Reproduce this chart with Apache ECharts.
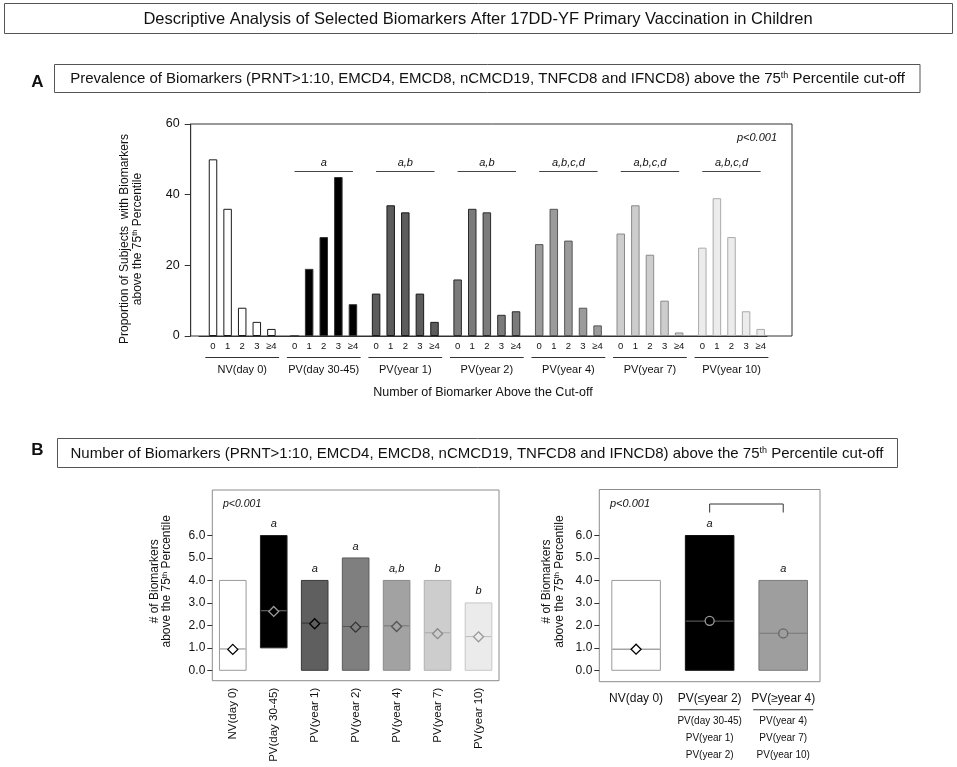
<!DOCTYPE html>
<html><head><meta charset="utf-8">
<script src="https://cdn.jsdelivr.net/npm/echarts@6/dist/echarts.min.js"></script>
<style>html,body{margin:0;padding:0;background:#fff}#c{width:957px;height:767px}</style>
</head><body><div id="c"></div>
<script>
const FONT = '"Liberation Sans", Arial, Helvetica, sans-serif';

// ---------- Panel A data ----------
const groupNamesA = ['NV(day 0)', 'PV(day 30-45)', 'PV(year 1)', 'PV(year 2)', 'PV(year 4)', 'PV(year 7)', 'PV(year 10)'];
const countLabels = ['0', '1', '2', '3', '≥4'];
const nvDay0 = [50, 36, 8, 4, 2];
const pvDay30to45 = [0, 19, 28, 45, 9];
const pvYear1 = [12, 37, 35, 12, 4];
const pvYear2 = [16, 36, 35, 6, 7];
const pvYear4 = [26, 36, 27, 8, 3];
const pvYear7 = [29, 37, 23, 10, 1];
const pvYear10 = [25, 39, 28, 7, 2];
const lettersA = ['', 'a', 'a,b', 'a,b', 'a,b,c,d', 'a,b,c,d', 'a,b,c,d'];
const letterLineLevelA = 46.5;
const yTicksA = [0, 20, 40, 60];

// ---------- Panel B (left) data ----------
const namesB = ['NV(day 0)', 'PV(day 30-45)', 'PV(year 1)', 'PV(year 2)', 'PV(year 4)', 'PV(year 7)', 'PV(year 10)'];
const minB = [0, 1, 0, 0, 0, 0, 0];
const maxB = [4, 6, 4, 5, 4, 4, 3];
const lineB = [0.95, 2.65, 2.1, 1.95, 1.98, 1.67, 1.5];
const meanB = [0.93, 2.62, 2.07, 1.92, 1.95, 1.63, 1.49];
const lettersB = ['', 'a', 'a', 'a', 'a,b', 'b', 'b'];

// ---------- Panel B (right) data ----------
const namesP = ['NV(day 0)', 'PV(≤year 2)', 'PV(≥year 4)'];
const membersP = [[], ['PV(day 30-45)', 'PV(year 1)', 'PV(year 2)'], ['PV(year 4)', 'PV(year 7)', 'PV(year 10)']];
const minP = [0, 0, 0];
const maxP = [4, 6, 4];
const lineP = [0.94, 2.19, 1.65];
const meanP = [0.94, 2.2, 1.64];
const lettersP = ['', 'a', 'a'];
const bracketP = [1, 2];
const yTicksB = [0, 1, 2, 3, 4, 5, 6];

// ---------- styles ----------
const seriesA = [nvDay0, pvDay30to45, pvYear1, pvYear2, pvYear4, pvYear7, pvYear10];
const fillA = ['#ffffff', '#000000', '#5c5c5c', '#7b7b7b', '#9b9b9b', '#cdcdcd', '#ececec'];
const strokeA = ['#1a1a1a', '#333333', '#1a1a1a', '#2a2a2a', '#555555', '#8a8a8a', '#aaaaaa'];
const fillB = ['#ffffff', '#000000', '#5f5f5f', '#7f7f7f', '#a2a2a2', '#cdcdcd', '#ebebeb'];
const strokeB = ['#9a9a9a', '#222222', '#3a3a3a', '#5a5a5a', '#8a8a8a', '#b0b0b0', '#c6c6c6'];
const midLineB = ['#8a8a8a', '#777777', '#333333', '#555555', '#777777', '#a8a8a8', '#bdbdbd'];
const markerBorderB = ['#000000', '#9a9a9a', '#000000', '#333333', '#555555', '#8a8a8a', '#9a9a9a'];
const fillP = ['#ffffff', '#000000', '#9e9e9e'];
const strokeP = ['#9a9a9a', '#111111', '#7a7a7a'];
const midLineP = ['#777777', '#666666', '#777777'];
const markerBorderP = ['#000000', '#9a9a9a', '#666666'];
const markerSymbolP = ['diamond', 'circle', 'circle'];

const chart = echarts.init(document.getElementById('c'), null, { renderer: 'canvas' });

const grids = [], xAxes = [], yAxes = [], series = [];
function G(o) { return Object.assign({ containLabel: false, outerBoundsMode: 'none' }, o); }
const supRichAxis = { sup: { fontSize: 7.5, fontFamily: FONT, color: '#111', verticalAlign: 'top', lineHeight: 8 } };

// Panel A frame grid
grids.push(G({ left: 190.7, top: 124, width: 601.3, height: 212, show: true, borderColor: '#333', borderWidth: 1 }));
xAxes.push({ gridIndex: 0, type: 'value', min: 0, max: 1, show: false });
yAxes.push({
  gridIndex: 0, type: 'value', min: yTicksA[0], max: yTicksA[yTicksA.length - 1], interval: 20,
  axisLine: { show: true, lineStyle: { color: '#333' } },
  axisTick: { show: true, length: 6, lineStyle: { color: '#333' } },
  axisLabel: { fontSize: 12.5, fontFamily: FONT, color: '#111', margin: 11 },
  splitLine: { show: false },
  name: 'Proportion of Subjects  with Biomarkers\nabove the 75{sup|th} Percentile',
  nameLocation: 'middle', nameGap: 46,
  nameTextStyle: { fontSize: 12, fontFamily: FONT, color: '#111', lineHeight: 13.3, padding: [0, 18, 0, 0], rich: supRichAxis }
});

// Panel A group grids
for (let i = 0; i < 7; i++) {
  const gi = grids.length;
  grids.push(G({ left: 205.7 + 81.55 * i, top: 124, width: 73, height: 212 }));
  xAxes.push({
    gridIndex: gi, type: 'category', data: countLabels,
    axisLine: { show: false }, axisTick: { show: false },
    axisLabel: { fontSize: 9.5, fontFamily: FONT, color: '#111', margin: 5, interval: 0 }
  });
  xAxes.push({
    gridIndex: gi, type: 'category', data: [groupNamesA[i]], position: 'bottom', offset: 21.3,
    axisLine: { show: true, lineStyle: { color: '#333', width: 1 } }, axisTick: { show: false },
    axisLabel: { fontSize: 11, fontFamily: FONT, color: '#111', margin: 7 }
  });
  yAxes.push({ gridIndex: gi, type: 'value', min: 0, max: 60, show: false });
  const s = {
    type: 'bar', xAxisIndex: xAxes.length - 2, yAxisIndex: yAxes.length - 1,
    data: seriesA[i], barWidth: 8.5,
    itemStyle: { color: fillA[i], borderColor: strokeA[i], borderWidth: 1 },
    silent: true
  };
  if (lettersA[i]) {
    s.markLine = {
      silent: true, symbol: ['none', 'none'], animation: false,
      lineStyle: { color: '#444', width: 1, type: 'solid' },
      label: { show: true, position: 'middle', formatter: lettersA[i], fontStyle: 'italic', fontSize: 11, fontFamily: FONT, color: '#111', distance: 3 },
      data: [[{ coord: [0, letterLineLevelA] }, { coord: [4, letterLineLevelA] }]]
    };
  }
  series.push(s);
}

// Panel A long underline with axis title
{
  const gi = grids.length;
  grids.push(G({ left: 199, top: 124, width: 568, height: 212 }));
  xAxes.push({
    gridIndex: gi, type: 'value', min: 0, max: 1, offset: 43.3,
    axisLine: { show: true, lineStyle: { color: '#333' } }, axisTick: { show: false }, axisLabel: { show: false }, splitLine: { show: false },
    name: 'Number of Biomarker Above the Cut-off', nameLocation: 'middle', nameGap: 7,
    nameTextStyle: { fontSize: 12.5, fontFamily: FONT, color: '#111', verticalAlign: 'top' }
  });
  yAxes.push({ gridIndex: gi, type: 'value', min: 0, max: 1, show: false });
}

function rangeRenderer(fills, strokes, lines, letters, ratio) {
  return function (params, api) {
    const i = api.value(0);
    const lo = api.coord([i, api.value(1)]);
    const hi = api.coord([i, api.value(2)]);
    const mid = api.coord([i, api.value(3)]);
    const w = api.size([1, 0])[0] * ratio;
    const children = [
      { type: 'rect', shape: { x: lo[0] - w / 2, y: hi[1], width: w, height: lo[1] - hi[1] }, style: { fill: fills[i], stroke: strokes[i], lineWidth: 1 } },
      { type: 'line', shape: { x1: lo[0] - w / 2 + 0.5, y1: mid[1], x2: lo[0] + w / 2 - 0.5, y2: mid[1] }, style: { stroke: lines[i], lineWidth: 1 } }
    ];
    if (letters[i]) {
      children.push({ type: 'text', x: lo[0], y: hi[1] - 6, style: { text: letters[i], align: 'center', verticalAlign: 'bottom', font: 'italic 11px ' + FONT, fill: '#111' } });
    }
    return { type: 'group', children: children };
  };
}

function bPanel(frameLeft, frameTop, frameW, frameH, names, labelCfg, nameGap) {
  const fgi = grids.length;
  grids.push(G({ left: frameLeft, top: frameTop, width: frameW, height: frameH, show: true, borderColor: '#8c8c8c', borderWidth: 1 }));
  xAxes.push(Object.assign({ gridIndex: fgi, type: 'category', data: names, axisLine: { show: false }, axisTick: { show: false } }, labelCfg));
  yAxes.push({
    gridIndex: fgi, type: 'value', min: 0, max: 1,
    axisLine: { show: false }, axisTick: { show: false }, axisLabel: { show: false }, splitLine: { show: false },
    name: '# of Biomarkers\nabove the 75{sup|th} Percentile', nameLocation: 'middle', nameGap: nameGap,
    nameTextStyle: { fontSize: 12, fontFamily: FONT, color: '#111', lineHeight: 12.5, padding: [0, 0, 0, 8], rich: supRichAxis }
  });
  const dgi = grids.length;
  grids.push(G({ left: frameLeft, top: 535.5, width: frameW, height: 134.8 }));
  xAxes.push({ gridIndex: dgi, type: 'category', data: names, show: false });
  yAxes.push({
    gridIndex: dgi, type: 'value', min: yTicksB[0], max: yTicksB[yTicksB.length - 1], interval: 1,
    axisLine: { show: false }, axisTick: { show: true, length: 5, lineStyle: { color: '#333' } },
    axisLabel: { fontSize: 12, fontFamily: FONT, color: '#111', margin: 7, formatter: v => v.toFixed(1) },
    splitLine: { show: false }
  });
  return { xi: xAxes.length - 1, yi: yAxes.length - 1 };
}

// Panel B left
{
  const ax = bPanel(212.3, 490, 286.7, 190.7, namesB,
    { axisLabel: { rotate: 90, fontSize: 11.5, fontFamily: FONT, color: '#111', margin: 7, interval: 0 } }, 39);
  series.push({
    type: 'custom', xAxisIndex: ax.xi, yAxisIndex: ax.yi, silent: true,
    data: minB.map((v, i) => [i, v, maxB[i], lineB[i]]),
    encode: { x: 0, y: [1, 2, 3] },
    renderItem: rangeRenderer(fillB, strokeB, midLineB, lettersB, 0.65)
  });
  series.push({
    type: 'scatter', xAxisIndex: ax.xi, yAxisIndex: ax.yi, silent: true, symbol: 'diamond', symbolSize: 10, z: 5,
    data: meanB.map((v, i) => ({ value: [i, v], itemStyle: { color: fillB[i], borderColor: markerBorderB[i], borderWidth: 1.3, opacity: 1 } }))
  });
}

// Panel B right
{
  const richLabels = {
    m: { fontSize: 12, fontFamily: FONT, color: '#111', lineHeight: 17 },
    u: { width: 60, height: 1, lineHeight: 6, backgroundColor: '#333' },
    s: { fontSize: 10, fontFamily: FONT, color: '#111', lineHeight: 17 }
  };
  const ax = bPanel(599.3, 489.5, 220.7, 192.2, namesP,
    { axisLabel: { interval: 0, margin: 8, rich: richLabels,
      formatter: (v, idx) => {
        let t = '{m|' + v + '}';
        if (membersP[idx].length) t += '\n{u| }\n' + membersP[idx].map(n => '{s|' + n + '}').join('\n');
        return t;
      } } }, 33.5);
  series.push({
    type: 'custom', xAxisIndex: ax.xi, yAxisIndex: ax.yi, silent: true,
    data: minP.map((v, i) => [i, v, maxP[i], lineP[i]]),
    encode: { x: 0, y: [1, 2, 3] },
    renderItem: rangeRenderer(fillP, strokeP, midLineP, lettersP, 0.66)
  });
  series.push({
    type: 'scatter', xAxisIndex: ax.xi, yAxisIndex: ax.yi, silent: true, z: 5,
    data: meanP.map((v, i) => ({ value: [i, v], symbol: markerSymbolP[i], symbolSize: markerSymbolP[i] === 'circle' ? 9 : 10,
      itemStyle: { color: fillP[i], borderColor: markerBorderP[i], borderWidth: 1.3, opacity: 1 } }))
  });
  series.push({
    type: 'custom', xAxisIndex: ax.xi, yAxisIndex: ax.yi, silent: true, clip: false,
    data: [[bracketP[0], bracketP[1]]],
    encode: { x: 0, y: 1 },
    renderItem: function (params, api) {
      const x1 = api.coord([api.value(0), 0])[0];
      const x2 = api.coord([api.value(1), 0])[0];
      const topY = api.coord([0, 6])[1];
      const yt = topY - 31.5, yb = topY - 23;
      return { type: 'polyline', shape: { points: [[x1, yb], [x1, yt], [x2, yt], [x2, yb]] }, style: { stroke: '#333', lineWidth: 1, fill: null } };
    }
  });
}

const supRich = { sup: { fontSize: 9, fontFamily: FONT, fill: '#111', verticalAlign: 'top', lineHeight: 10 } };
function boxText(x, y, text, size) {
  return { type: 'text', x: x, y: y, style: { text: text, font: size + 'px ' + FONT, fill: '#111', align: 'center', verticalAlign: 'middle', rich: supRich } };
}

const graphic = [
  { type: 'rect', shape: { x: 4.5, y: 3.5, width: 948, height: 30 }, style: { fill: 'none', stroke: '#555', lineWidth: 1 } },
  boxText(478, 19, 'Descriptive Analysis of Selected Biomarkers After 17DD-YF Primary Vaccination in Children', 16.5),
  { type: 'text', x: 37.5, y: 82.5, style: { text: 'A', font: 'bold 17px ' + FONT, fill: '#111', align: 'center', verticalAlign: 'middle' } },
  { type: 'rect', shape: { x: 54.5, y: 64.5, width: 865.5, height: 28 }, style: { fill: 'none', stroke: '#555', lineWidth: 1 } },
  boxText(487.5, 79, 'Prevalence of Biomarkers (PRNT>1:10, EMCD4, EMCD8, nCMCD19, TNFCD8 and IFNCD8) above the 75{sup|th} Percentile cut-off', 15),
  { type: 'text', x: 37.5, y: 450, style: { text: 'B', font: 'bold 17px ' + FONT, fill: '#111', align: 'center', verticalAlign: 'middle' } },
  { type: 'rect', shape: { x: 57.5, y: 438.5, width: 840, height: 29 }, style: { fill: 'none', stroke: '#555', lineWidth: 1 } },
  boxText(477, 453.5, 'Number of Biomarkers (PRNT>1:10, EMCD4, EMCD8, nCMCD19, TNFCD8 and IFNCD8) above the 75{sup|th} Percentile cut-off', 15),
  { type: 'text', x: 777, y: 138, style: { text: 'p<0.001', font: 'italic 11px ' + FONT, fill: '#111', align: 'right', verticalAlign: 'middle' } },
  { type: 'text', x: 223, y: 504, style: { text: 'p<0.001', font: 'italic 10.5px ' + FONT, fill: '#111', align: 'left', verticalAlign: 'middle' } },
  { type: 'text', x: 610, y: 504, style: { text: 'p<0.001', font: 'italic 11px ' + FONT, fill: '#111', align: 'left', verticalAlign: 'middle' } }
];

chart.setOption({
  animation: false,
  backgroundColor: '#ffffff',
  textStyle: { fontFamily: FONT },
  grid: grids, xAxis: xAxes, yAxis: yAxes, series: series, graphic: graphic
});
</script></body></html>
